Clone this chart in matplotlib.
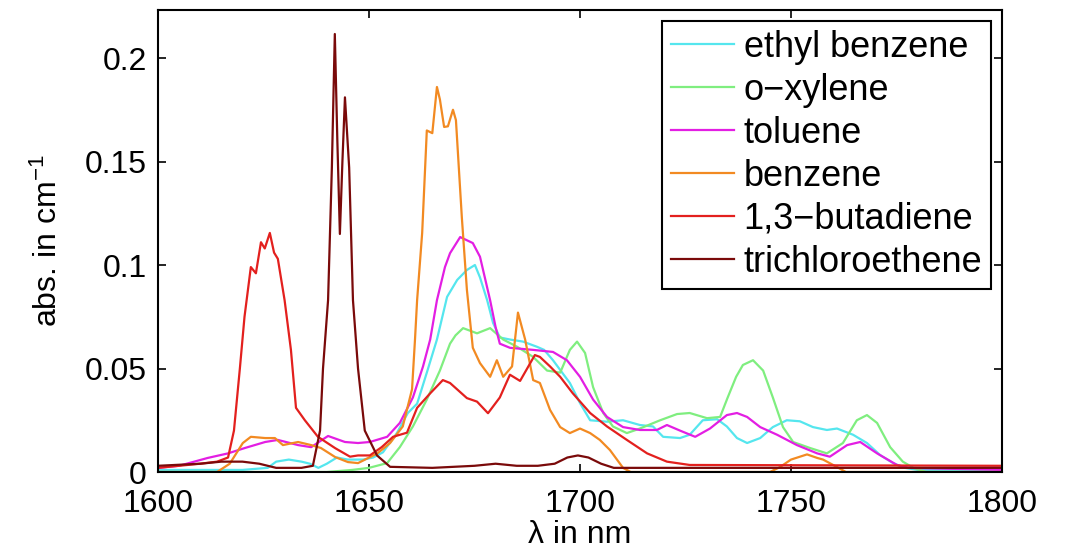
import matplotlib
matplotlib.use("Agg")
import matplotlib.pyplot as plt

plt.rcParams['font.family'] = ['Liberation Sans', 'DejaVu Sans']
plt.rcParams['mathtext.fontset'] = 'custom'
plt.rcParams['mathtext.rm'] = 'Liberation Sans'
plt.rcParams['mathtext.it'] = 'Liberation Sans'

# ---------------- data ----------------
ethyl_x = [1600, 1620, 1626, 1628, 1631, 1634, 1636, 1638, 1640, 1642.4, 1645, 1648.6, 1651, 1653.3,
           1656.6, 1659.2, 1661.4, 1663.7, 1666.1, 1668.5, 1670.9, 1673.2, 1675.1, 1676.3, 1678, 1679.4,
           1681, 1683.4, 1686.5, 1689.8, 1691.5, 1693.6, 1697.6, 1700, 1702.4, 1706.4, 1710.2, 1714.2,
           1717.3, 1719.7, 1723.7, 1726, 1729.1, 1732.5, 1734.8, 1737.2, 1739.6, 1742.7, 1745.7, 1749,
           1752.1, 1755.2, 1758.5, 1760.9, 1764.7, 1768, 1771.1, 1774.2, 1777, 1780, 1800]
ethyl_y = [0.001, 0.001, 0.002, 0.005, 0.006, 0.005, 0.004, 0.002, 0.004, 0.007, 0.006, 0.006, 0.007, 0.0095,
           0.0188, 0.0285, 0.033, 0.048, 0.064, 0.0846, 0.0928, 0.0976, 0.100, 0.094, 0.083, 0.072,
           0.065, 0.064, 0.063, 0.0605, 0.059, 0.054, 0.043, 0.0333, 0.025, 0.0243, 0.025, 0.0227,
           0.022, 0.017, 0.0164, 0.018, 0.025, 0.0255, 0.022, 0.0164, 0.014, 0.0164, 0.0217, 0.025,
           0.0245, 0.0217, 0.0203, 0.021, 0.018, 0.014, 0.0082, 0.0043, 0.002, 0.001, 0.001]

xylene_x = [1600, 1640, 1646, 1650, 1654.3, 1657.3, 1660.4, 1663.7, 1666.8, 1669.2, 1670.5, 1672.3,
            1675.6, 1678.7, 1681.8, 1685.1, 1688.9, 1692.2, 1695.3, 1697.6, 1699.3, 1701.2, 1703.1,
            1705.5, 1707.8, 1711.1, 1714.2, 1719, 1723, 1726, 1730.1, 1733.2, 1735, 1737, 1738.6,
            1741, 1743.4, 1745.7, 1748.1, 1750.5, 1754.5, 1758.5, 1762.3, 1765.6, 1768, 1770.4,
            1773.5, 1776.5, 1779, 1782, 1800]
xylene_y = [0.0, 0.0, 0.001, 0.002, 0.0043, 0.012, 0.022, 0.035, 0.049, 0.062, 0.066, 0.0695,
            0.067, 0.0695, 0.064, 0.0605, 0.0556, 0.049, 0.048, 0.059, 0.063, 0.0575, 0.041,
            0.0285, 0.022, 0.0188, 0.021, 0.025, 0.028, 0.0285, 0.026, 0.0266, 0.036, 0.046, 0.0517,
            0.054, 0.049, 0.036, 0.0217, 0.0145, 0.0116, 0.009, 0.014, 0.025, 0.0275, 0.0237,
            0.012, 0.005, 0.002, 0.0, 0.0]

toluene_x = [1600, 1605, 1611.8, 1616.6, 1620.6, 1625.4, 1628.4, 1633.2, 1636.3, 1638.5, 1640.3, 1644.3,
             1647.4, 1650.2, 1654.3, 1657.3, 1660.4, 1662.8, 1664.5, 1666.1, 1668, 1669.2, 1671.6,
             1674.6, 1676.3, 1678.7, 1680, 1681, 1683.4, 1688.9, 1693.6, 1696.9, 1700, 1703.1, 1706.4,
             1710.2, 1714.2, 1718.2, 1720.6, 1723.7, 1727.3, 1730.8, 1734.8, 1737.2, 1739.6, 1742.7,
             1746.7, 1751.4, 1756.2, 1759.2, 1763.3, 1766.4, 1770.4, 1775.1, 1778, 1800]
toluene_y = [0.002, 0.003, 0.0068, 0.009, 0.0116, 0.0145, 0.0155, 0.013, 0.012, 0.015, 0.0174, 0.0145,
             0.014, 0.0145, 0.017, 0.0237, 0.036, 0.051, 0.064, 0.083, 0.099, 0.1057, 0.1135,
             0.1106, 0.104, 0.083, 0.070, 0.062, 0.060, 0.059, 0.058, 0.054, 0.046, 0.035, 0.0266,
             0.0217, 0.0203, 0.0203, 0.0227, 0.020, 0.017, 0.021, 0.0275, 0.0285, 0.0266, 0.0217,
             0.018, 0.013, 0.009, 0.0074, 0.013, 0.0145, 0.009, 0.0034, 0.002, 0.001]

benzene_x = [1600, 1614, 1617, 1620.1, 1622, 1625.4, 1627.7, 1629.6, 1633.2, 1636.3, 1638.6, 1642, 1645,
             1647.4, 1652, 1655, 1658, 1660.2, 1660.9, 1661.4, 1662.6, 1663.7, 1665, 1666.1, 1666.8,
             1667.8, 1668.7, 1669.9, 1670.6, 1672, 1673.2, 1674.6, 1676.3, 1678.7, 1680.3, 1681.8,
             1683.9, 1685.3, 1687, 1688.9, 1690.5, 1692.9, 1695.3, 1697.6, 1700, 1702.4, 1704.7,
             1707.1, 1710.2, 1712, 1745, 1747.4, 1750, 1753.8, 1756.2, 1757.6, 1760.9, 1763, 1800]
benzene_y = [0.0, 0.0, 0.004, 0.014, 0.017, 0.0164, 0.0164, 0.013, 0.0145, 0.013, 0.0116, 0.0072, 0.0048,
             0.0043, 0.009, 0.014, 0.022, 0.04, 0.064, 0.083, 0.1155, 0.165, 0.1637, 0.186, 0.18,
             0.1667, 0.167, 0.175, 0.170, 0.123, 0.088, 0.060, 0.0526, 0.046, 0.054, 0.046,
             0.051, 0.077, 0.064, 0.0444, 0.043, 0.030, 0.0217, 0.0188, 0.021, 0.0188, 0.0155,
             0.0106, 0.002, 0.0, 0.0, 0.0024, 0.006, 0.0085, 0.0068, 0.006, 0.0024, 0.0, 0.0]

butadiene_x = [1600, 1610, 1614, 1616.6, 1618, 1619.4, 1620.5, 1622, 1623.2, 1624.4, 1625.3, 1626.5,
               1627.5, 1628.4, 1630, 1631.5, 1632.7, 1634.8, 1637.9, 1642, 1645.5, 1647.4, 1650.2, 1653,
               1655.7, 1659, 1661.4, 1664.5, 1667.5, 1669.2, 1673.2, 1675.6, 1678.2, 1681, 1683.4,
               1685.8, 1689.3, 1690.5, 1692.9, 1695.3, 1698.3, 1702.4, 1706.4, 1711.1, 1715.9, 1720.6,
               1726, 1800]
butadiene_y = [0.002, 0.004, 0.005, 0.007, 0.02, 0.05, 0.075, 0.099, 0.096, 0.111, 0.108, 0.1155,
               0.106, 0.103, 0.083, 0.059, 0.031, 0.025, 0.017, 0.0115, 0.0074, 0.008, 0.008, 0.012,
               0.017, 0.019, 0.031, 0.038, 0.0444, 0.043, 0.0357, 0.034, 0.0284, 0.036, 0.047,
               0.044, 0.0565, 0.0556, 0.051, 0.046, 0.038, 0.0285, 0.022, 0.0155, 0.009, 0.005,
               0.0034, 0.003]

tce_x = [1600, 1610, 1615, 1620, 1624, 1628, 1634, 1636.7, 1638.4, 1639.1, 1640.3, 1641.2, 1641.9,
         1642.5, 1643.1, 1643.7, 1644.3, 1645.3, 1646.2, 1647.4, 1649, 1651.9, 1655, 1665, 1675,
         1680, 1685, 1690, 1694, 1697, 1699.5, 1702, 1705, 1708, 1800]
tce_y = [0.003, 0.004, 0.005, 0.005, 0.004, 0.002, 0.002, 0.003, 0.02, 0.05, 0.083, 0.147, 0.2116,
         0.16, 0.115, 0.15, 0.181, 0.147, 0.083, 0.05, 0.02, 0.008, 0.0025, 0.002, 0.003,
         0.004, 0.003, 0.003, 0.004, 0.007, 0.008, 0.007, 0.004, 0.002, 0.002]

labels = ['ethyl benzene', 'o\u2212xylene', 'toluene', 'benzene', '1,3\u2212butadiene', 'trichloroethene']
x_ticks = [1600, 1650, 1700, 1750, 1800]
y_ticks = [0, 0.05, 0.1, 0.15, 0.2]
y_tick_labels = ['0', '0.05', '0.1', '0.15', '0.2']

# ---------------- plot ----------------
colors = ['#55E6EE', '#7FEE7F', '#E31EE3', '#F28A22', '#E3201E', '#7A0A0A']
series = [(ethyl_x, ethyl_y), (xylene_x, xylene_y), (toluene_x, toluene_y),
          (benzene_x, benzene_y), (butadiene_x, butadiene_y), (tce_x, tce_y)]

fig = plt.figure(figsize=(10.76, 5.52), dpi=100)
ax = fig.add_axes([158 / 1076, 80 / 552, 844 / 1076, 462 / 552])

for (xs, ys), c, lab in zip(series, colors, labels):
    ax.plot(xs, ys, color=c, lw=1.6, label=lab)

ax.set_xlim(1600, 1800)
ax.set_ylim(0, 0.2232)
ax.set_xticks(x_ticks)
ax.set_xticklabels([str(t) for t in x_ticks])
ax.set_yticks(y_ticks)
ax.set_yticklabels(y_tick_labels)
ax.tick_params(direction='in', length=6, width=1.2, top=True, right=True,
               labelsize=23, pad=8)
ax.tick_params(axis='x', pad=12)
for s in ax.spines.values():
    s.set_linewidth(1.5)

ax.set_xlabel('\u03bb in nm', fontsize=23, labelpad=1)
ax.set_ylabel('abs. in cm$^{\u22121}$', fontsize=23, labelpad=15)

leg = ax.legend(loc='upper right', fontsize=26, frameon=True, fancybox=False,
                framealpha=1, edgecolor='black', handlelength=1.75, handletextpad=0.25,
                labelspacing=0.22, borderpad=0.25, borderaxespad=0.3)
leg.get_frame().set_linewidth(1.5)

fig.savefig('out.png', dpi=100)
